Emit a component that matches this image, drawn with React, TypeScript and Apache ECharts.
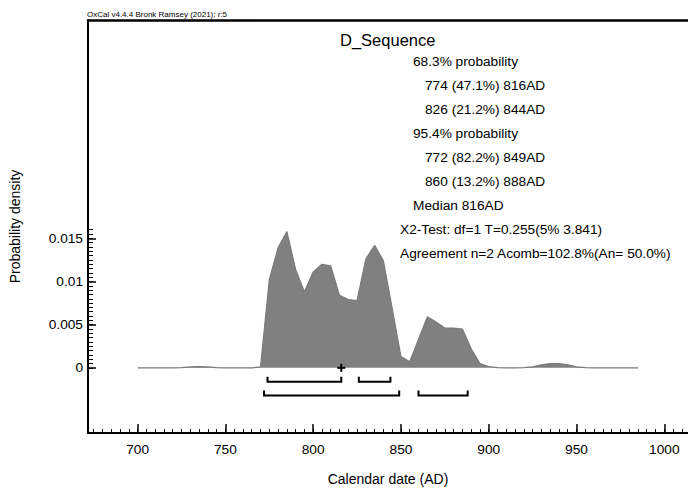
import React, { useEffect, useRef } from "react";
import * as echarts from "echarts";

const years = [
  700, 705, 710, 715, 720, 725, 730, 735, 740, 745, 750, 755, 760, 765, 770,
  775, 780, 785, 790, 795, 800, 805, 810, 815, 820, 825, 830, 835, 840, 845,
  850, 855, 860, 865, 870, 875, 880, 885, 890, 895, 900, 905, 910, 915, 920,
  925, 930, 935, 940, 945, 950, 955, 960, 965, 970, 975, 980, 985,
];
const density = [
  0, 0, 0, 0, 0, 0.00002, 0.0001, 0.00015, 0.0001, 0.00003, 0, 0, 0, 0, 0.0001,
  0.0102, 0.0139, 0.0158, 0.0114, 0.0088, 0.0111, 0.012, 0.0118, 0.0084, 0.0079,
  0.0078, 0.0126, 0.0142, 0.0124, 0.0069, 0.0013, 0.0007, 0.0033, 0.0059, 0.0053,
  0.0046, 0.0046, 0.0045, 0.0022, 0.0005, 0.00015, 0.00003, 0, 0, 0.00003,
  0.00012, 0.00035, 0.0005, 0.0005, 0.00035, 0.00012, 0.00002, 0, 0, 0, 0, 0, 0,
];
const hpd68 = [
  [774, 816],
  [826, 844],
];
const hpd95 = [
  [772, 849],
  [860, 888],
];
const medianYear = 816;

const xMajorTicks = [700, 750, 800, 850, 900, 950, 1000];
const xMinorTicks: number[] = [];
for (let v = 675; v <= 1010; v += 5) xMinorTicks.push(v);
const yMajorTicks = [0, 0.005, 0.01, 0.015];
const yMinorTicks: number[] = [];
for (let i = 0; i <= 32; i++) yMinorTicks.push(+(i * 0.0005).toFixed(4));

const headerText = "OxCal v4.4.4 Bronk Ramsey (2021); r:5";
const titleText = "D_Sequence";
const infoLines: [string, number][] = [
  ["68.3% probability", 0],
  ["774 (47.1%) 816AD", 1],
  ["826 (21.2%) 844AD", 1],
  ["95.4% probability", 0],
  ["772 (82.2%) 849AD", 1],
  ["860 (13.2%) 888AD", 1],
  ["Median 816AD", 0],
  ["X2-Test: df=1 T=0.255(5% 3.841)", -1],
  ["Agreement n=2 Acomb=102.8%(An= 50.0%)", -1],
];

const FONT = '"Liberation Sans", Arial, Helvetica, sans-serif';
const X_MIN = 671.74;
const X_MAX = 1013.5;
const Y_MIN = -0.00755;
const Y_MAX = 0.04029;

export default function App() {
  const ref = useRef<HTMLDivElement>(null);
  useEffect(() => {
    if (!ref.current) return;
    const chart = echarts.init(ref.current, null, { renderer: "svg" });
    const lineData = years.map((y, i) => [y, density[i]]);
    const bracketData = [
      ...hpd68.map((r) => [r[0], r[1], -0.0016]),
      ...hpd95.map((r) => [r[0], r[1], -0.0032]),
    ];
    const infoGraphics = infoLines.map(([t, indent], i) => ({
      type: "text",
      x: indent === 1 ? 425 : indent === 0 ? 413 : 400,
      y: 61 + i * 24.1,
      style: {
        text: t,
        font: `13.7px ${FONT}`,
        fill: "#000",
        align: "left",
        verticalAlign: "middle",
      },
    }));
    chart.setOption({
      animation: false,
      backgroundColor: "#fff",
      grid: { left: 87, top: 20, right: 0, bottom: 51, containLabel: false },
      xAxis: [
        {
          type: "value",
          min: X_MIN,
          max: X_MAX,
          position: "bottom",
          axisLine: { show: true, onZero: false, lineStyle: { color: "#000", width: 2 } },
          axisTick: {
            show: true,
            inside: true,
            length: 9,
            customValues: xMajorTicks,
            lineStyle: { color: "#000", width: 1.5 },
          },
          axisLabel: {
            show: true,
            customValues: xMajorTicks,
            margin: 9,
            color: "#000",
            fontSize: 13.7,
            fontFamily: FONT,
            formatter: (v: number) => String(Math.round(+v)),
          },
          splitLine: { show: false },
          name: "Calendar date (AD)",
          nameLocation: "middle",
          nameGap: 39,
          nameTextStyle: { color: "#000", fontSize: 14, fontFamily: FONT },
        },
        {
          type: "value",
          min: X_MIN,
          max: X_MAX,
          position: "bottom",
          axisLine: { show: false, onZero: false },
          axisTick: {
            show: true,
            inside: true,
            length: 4,
            customValues: xMinorTicks,
            lineStyle: { color: "#000", width: 1 },
          },
          axisLabel: { show: false },
          splitLine: { show: false },
        },
        {
          type: "value",
          min: X_MIN,
          max: X_MAX,
          position: "top",
          axisLine: { show: true, onZero: false, lineStyle: { color: "#000", width: 2.5 } },
          axisTick: { show: false },
          axisLabel: { show: false },
          splitLine: { show: false },
        },
      ],
      yAxis: [
        {
          type: "value",
          min: Y_MIN,
          max: Y_MAX,
          position: "left",
          axisLine: { show: true, onZero: false, lineStyle: { color: "#000", width: 2 } },
          axisTick: {
            show: true,
            inside: true,
            length: 8,
            customValues: yMajorTicks,
            lineStyle: { color: "#000", width: 1.5 },
          },
          axisLabel: {
            show: true,
            customValues: yMajorTicks,
            margin: 5,
            color: "#000",
            fontSize: 13.7,
            fontFamily: FONT,
            formatter: (v: number) => String(+(+v).toFixed(3)),
          },
          splitLine: { show: false },
          name: "Probability density",
          nameLocation: "middle",
          nameGap: 66,
          nameRotate: 90,
          nameTextStyle: { color: "#000", fontSize: 14, fontFamily: FONT },
        },
        {
          type: "value",
          min: Y_MIN,
          max: Y_MAX,
          position: "left",
          axisLine: { show: false, onZero: false },
          axisTick: {
            show: true,
            inside: true,
            length: 5,
            customValues: yMinorTicks,
            lineStyle: { color: "#000", width: 1 },
          },
          axisLabel: { show: false },
          splitLine: { show: false },
        },
      ],
      series: [
        {
          type: "line",
          xAxisIndex: 0,
          yAxisIndex: 0,
          data: lineData,
          symbol: "none",
          smooth: false,
          lineStyle: { color: "#7a7a7a", width: 1.2 },
          areaStyle: { color: "#808080", opacity: 1, origin: "auto" },
          z: 2,
        },
        {
          type: "custom",
          xAxisIndex: 0,
          yAxisIndex: 0,
          data: bracketData,
          renderItem: (params: any, api: any) => {
            const from = api.value(0);
            const to = api.value(1);
            const lvl = api.value(2);
            const p1 = api.coord([from, lvl]);
            const p2 = api.coord([to, lvl]);
            const h = 5;
            return {
              type: "polyline",
              shape: {
                points: [
                  [p1[0], p1[1] - h],
                  [p1[0], p1[1]],
                  [p2[0], p2[1]],
                  [p2[0], p2[1] - h],
                ],
              },
              style: { stroke: "#000", fill: null, lineWidth: 2 },
            };
          },
          z: 3,
        },
        {
          type: "custom",
          xAxisIndex: 0,
          yAxisIndex: 0,
          data: [[medianYear, 0]],
          renderItem: (params: any, api: any) => {
            const p = api.coord([api.value(0), api.value(1)]);
            const s = 4;
            return {
              type: "group",
              children: [
                {
                  type: "line",
                  shape: { x1: p[0] - s, y1: p[1], x2: p[0] + s, y2: p[1] },
                  style: { stroke: "#000", lineWidth: 2 },
                },
                {
                  type: "line",
                  shape: { x1: p[0], y1: p[1] - s, x2: p[0], y2: p[1] + s },
                  style: { stroke: "#000", lineWidth: 2 },
                },
              ],
            };
          },
          z: 4,
        },
      ],
      graphic: [
        {
          type: "text",
          x: 87,
          y: 14,
          style: {
            text: headerText,
            font: `8px ${FONT}`,
            fill: "#000",
            align: "left",
            verticalAlign: "middle",
          },
        },
        {
          type: "text",
          x: 340,
          y: 40,
          style: {
            text: titleText,
            font: `16.5px ${FONT}`,
            fill: "#000",
            align: "left",
            verticalAlign: "middle",
          },
        },
        ...infoGraphics,
      ],
    });
    return () => chart.dispose();
  }, []);
  return (
    <div
      ref={ref}
      style={{ position: "fixed", left: 0, top: 0, width: 688, height: 491, background: "#fff" }}
    />
  );
}
